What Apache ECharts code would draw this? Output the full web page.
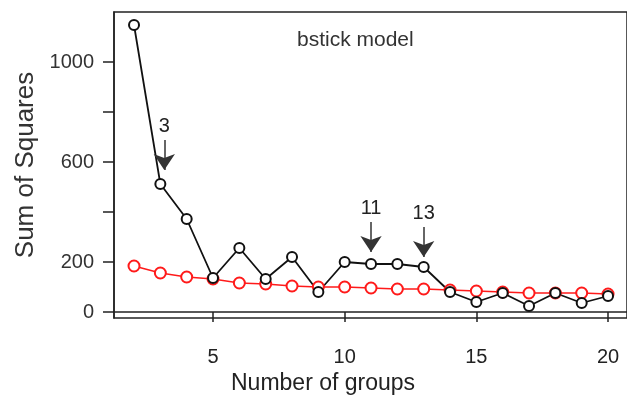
<!DOCTYPE html>
<html>
<head>
<meta charset="utf-8">
<title>bstick model</title>
<script type="text/javascript" src="https://cdn.jsdelivr.net/npm/echarts@6/dist/echarts.min.js"></script>
</head>
<body style="margin:0">
	<div id="main" style="width: 627px; height: 410px;"></div>
	<script type="text/javascript">
		// number of groups
		var groups = [2, 3, 4, 5, 6, 7, 8, 9, 10, 11, 12, 13, 14, 15, 16, 17, 18, 19, 20];
		// observed sum of squares (black)
		var observed = [1148, 512, 372, 136, 256, 132, 220, 80, 200, 192, 192, 180, 80, 40, 76, 24, 76, 36, 64];
		// broken stick model (red)
		var bstick = [184, 156, 140, 132, 116, 112, 104, 100, 100, 96, 92, 92, 88, 84, 80, 76, 76, 76, 72];
		// arrows: label, x, top of arrow, tip of arrow
		var arrows = [['3', 3.15, 688, 568], ['11', 11, 360, 240], ['13', 13, 340, 220]];
		var xTicks = [5, 10, 15, 20];
		var yTicks = [0, 200, 400, 600, 800, 1000];
		var yLabels = [0, 200, 600, 1000];

		var font = 'Liberation Sans, Arial, sans-serif';

		function pairs(vals) {
			return groups.map(function(g, i) { return [g, vals[i]]; });
		}

		var myChart = echarts.init(document.getElementById('main'));
		var option = {
			animation : false,
			grid : {
				left : 114, top : 12, width : 518, height : 306,
				show : true, borderColor : '#222', borderWidth : 1.5
			},
			graphic : [
				{ type : 'text', left : 297, top : 30,
				  style : { text : 'bstick model', font : '21px ' + font, fill : '#333' } },
				{ type : 'text', left : 231, top : 372,
				  style : { text : 'Number of groups', font : '23px ' + font, fill : '#222' } }
			],
			xAxis : {
				type : 'value', min : 1.24, max : 20.72,
				splitLine : { show : false },
				axisLine : { lineStyle : { color : '#222', width : 1.5 } },
				axisTick : { customValues : xTicks, length : 10, lineStyle : { color : '#222', width : 1.5 } },
				axisLabel : { customValues : xTicks, margin : 29, fontSize : 20, color : '#222', fontFamily : font }
			},
			yAxis : {
				type : 'value', min : -24, max : 1200,
				name : 'Sum of Squares', nameLocation : 'middle', nameGap : 75,
				nameTextStyle : { fontSize : 26, color : '#333', fontFamily : font },
				splitLine : { show : false },
				axisLine : { lineStyle : { color : '#222', width : 1.5 } },
				axisTick : { customValues : yTicks, length : 11, lineStyle : { color : '#222', width : 1.5 } },
				axisLabel : { customValues : yLabels, margin : 20, fontSize : 20, color : '#333', fontFamily : font,
					formatter : function(v) { return String(v); } }
			},
			series : [ {
				type : 'line',
				data : pairs(bstick),
				symbol : 'emptyCircle', symbolSize : 11,
				lineStyle : { color : '#ff1a1a', width : 1.5 },
				itemStyle : { color : '#ff1a1a', borderWidth : 1.5 }
			}, {
				type : 'line',
				data : pairs(observed),
				symbol : 'emptyCircle', symbolSize : 10,
				lineStyle : { color : '#111', width : 1.8 },
				itemStyle : { color : '#111', borderWidth : 1.5 },
				markLine : {
					silent : true,
					symbol : ['none', 'arrow'],
					symbolSize : 16,
					lineStyle : { color : '#333', width : 1.5, type : 'solid' },
					label : { show : true, position : 'start', distance : 4, fontSize : 20,
						color : '#222', fontFamily : font, formatter : function(p) { return p.name; } },
					data : arrows.map(function(a) {
						return [ { name : a[0], coord : [a[1], a[2]] }, { coord : [a[1], a[3]] } ];
					})
				}
			} ]
		};
		myChart.setOption(option);
	</script>
</body>
</html>
